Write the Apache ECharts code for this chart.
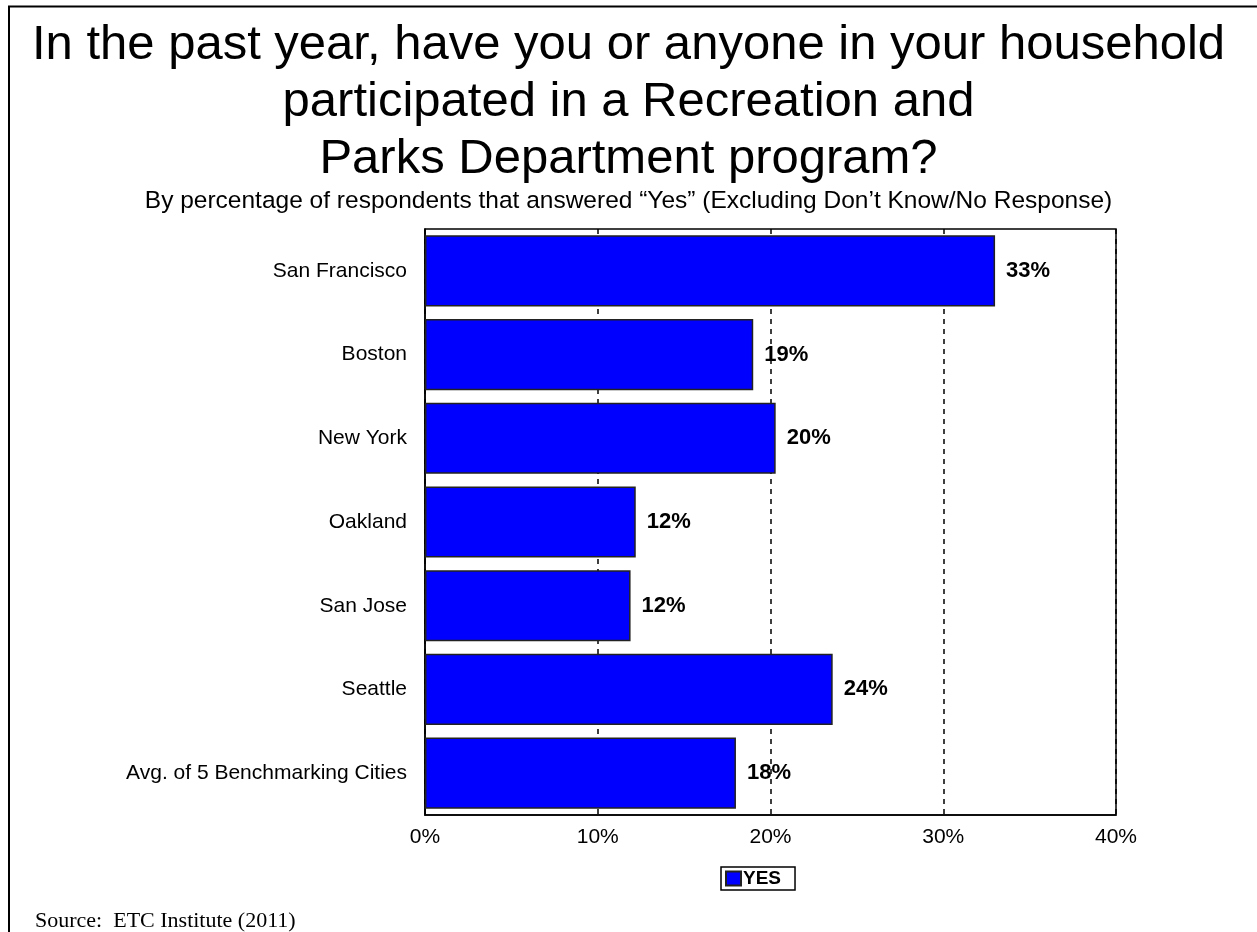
<!DOCTYPE html>
<html>
<head>
<meta charset="utf-8">
<script src="https://cdn.jsdelivr.net/npm/echarts@6/dist/echarts.min.js"></script>
<style>
  html, body { margin: 0; padding: 0; background: #fff; }
  #chart { width: 1257px; height: 932px; }
</style>
</head>
<body>
<div id="chart"></div>
<script>
// Survey share answering "Yes", by city
const cities = [
  'San Francisco',
  'Boston',
  'New York',
  'Oakland',
  'San Jose',
  'Seattle',
  'Avg. of 5 Benchmarking Cities'
];
const yesShare = [33.0, 19.0, 20.3, 12.2, 11.9, 23.6, 18.0];
const xTicks = { min: 0, max: 40, step: 10 };
const seriesName = 'YES';

const sans = 'Liberation Sans, Arial, sans-serif';
const chart = echarts.init(document.getElementById('chart'));

chart.setOption({
  backgroundColor: '#fff',
  animation: false,
  title: [
    {
      text: 'In the past year, have you or anyone in your household\nparticipated in a Recreation and\nParks Department program?',
      left: 'center',
      top: 12,
      textStyle: {
        fontFamily: sans,
        fontSize: 49,
        fontWeight: 'normal',
        color: '#000',
        lineHeight: 57
      }
    },
    {
      text: 'By percentage of respondents that answered \u201cYes\u201d (Excluding Don\u2019t Know/No Response)',
      left: 'center',
      top: 183,
      textStyle: {
        fontFamily: sans,
        fontSize: 24.5,
        fontWeight: 'normal',
        color: '#000',
        lineHeight: 26
      }
    },
    {
      text: 'Source:  ETC Institute (2011)',
      left: 30,
      top: 903,
      textStyle: {
        fontFamily: 'Liberation Serif, Times New Roman, serif',
        fontSize: 22,
        fontWeight: 'normal',
        color: '#000',
        lineHeight: 26
      }
    }
  ],
  graphic: [
    {
      type: 'polyline',
      silent: true,
      shape: { points: [[9, 940], [9, 6.5], [1270, 6.5]] },
      style: { stroke: '#000', lineWidth: 2, fill: null }
    }
  ],
  legend: {
    data: [seriesName],
    left: 721,
    top: 867,
    icon: 'rect',
    itemWidth: 15,
    itemHeight: 14,
    itemGap: 2,
    padding: [2, 14, 2, 4],
    borderColor: '#000',
    borderWidth: 1.5,
    textStyle: {
      fontFamily: sans,
      fontSize: 19,
      fontWeight: 'bold',
      color: '#000',
      padding: [0, 0, 0, -3]
    }
  },
  grid: {
    left: 425,
    right: 141,
    top: 229,
    bottom: 117,
    show: true,
    borderColor: '#000',
    borderWidth: 1.5,
    backgroundColor: 'transparent'
  },
  xAxis: {
    type: 'value',
    min: xTicks.min,
    max: xTicks.max,
    interval: xTicks.step,
    axisLine: { show: true, lineStyle: { color: '#000', width: 1.5 } },
    axisTick: { show: false },
    axisLabel: {
      formatter: '{value}%',
      fontFamily: sans,
      fontSize: 21,
      color: '#000',
      margin: 12
    },
    splitLine: {
      show: true,
      lineStyle: { color: '#000', type: [5, 5], width: 1.5 }
    }
  },
  yAxis: {
    type: 'category',
    data: cities,
    inverse: true,
    axisLine: { show: true, lineStyle: { color: '#000', width: 1.5 } },
    axisTick: { show: false },
    axisLabel: {
      fontFamily: sans,
      fontSize: 21,
      color: '#000',
      margin: 18
    }
  },
  series: [
    {
      name: seriesName,
      type: 'bar',
      data: yesShare,
      barCategoryGap: '15%',
      itemStyle: {
        color: '#0000ff',
        borderColor: '#222',
        borderWidth: 1.5
      },
      label: {
        show: true,
        position: 'right',
        distance: 11,
        formatter: p => Math.round(p.value) + '%',
        fontFamily: sans,
        fontSize: 22,
        fontWeight: 'bold',
        color: '#000'
      }
    }
  ]
});
</script>
</body>
</html>
